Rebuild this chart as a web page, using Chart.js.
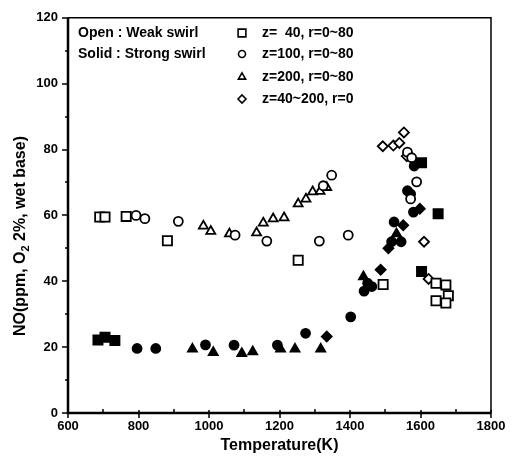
<!DOCTYPE html>
<html>
<head>
<meta charset="utf-8">
<script src="https://cdn.jsdelivr.net/npm/chart.js@4.4.1/dist/chart.umd.min.js"></script>
<style>
  html, body { margin: 0; padding: 0; background: #fff; }
  #wrap { width: 517px; height: 469px; }
</style>
</head>
<body>
<div id="wrap"><canvas id="noChart" width="517" height="469"></canvas></div>
<script>
// Weak swirl (open markers) - [temperature K, NO ppm]
var weakZ40 = [[690, 59.5], [705, 59.5], [765, 59.7], [882, 52.3], [1253, 46.4], [1494, 39], [1644, 39.4], [1672, 38.9], [1679, 35.6], [1644, 34.1], [1672, 33.4]];
var weakZ100 = [[793, 60], [818, 59], [913, 58.2], [1074, 54], [1164, 52.2], [1313, 52.2], [1395, 54], [1324, 69], [1348, 72.2], [1563, 79.2], [1575, 77.5], [1589, 70.2], [1572, 65]];
var weakZ200 = [[984, 56.8], [1005, 55.2], [1058, 54.4], [1135, 54.7], [1154, 57.7], [1182, 59], [1213, 59.3], [1253, 63.5], [1275, 65], [1294, 67.2], [1315, 67.3], [1334, 68.5]];
var weakAxis = [[1493, 81], [1523, 81.2], [1540, 82], [1553, 85.2], [1561, 78], [1610, 52], [1623, 40.7]];

// Strong swirl (solid markers)
var strongZ40 = [[685, 22.2], [705, 23], [733, 22], [1603, 76], [1650, 60.5], [1603, 43]];
var strongZ100 = [[796, 19.6], [849, 19.6], [990, 20.7], [1071, 20.6], [1194, 20.6], [1274, 24.2], [1402, 29.2], [1440, 37], [1450, 39.4], [1462, 38.4], [1518, 52], [1525, 58], [1545, 52], [1563, 67.5], [1572, 66.5], [1580, 61], [1582, 75]];
var strongZ200 = [[953, 19.4], [1012, 18.4], [1093, 18.1], [1124, 18.6], [1203, 19.4], [1244, 19.4], [1317, 19.4], [1438, 41.4], [1532, 54.4]];
var strongAxis = [[1334, 23.2], [1487, 43.5], [1509, 50], [1551, 57], [1598, 62]];

var legendLabels = ['z=  40, r=0~80', 'z=100, r=0~80', 'z=200, r=0~80', 'z=40~200, r=0'];
var legendStyles = ['rect', 'circle', 'triangle', 'rectRot'];

var FONT = '"Liberation Sans", Arial, sans-serif';

function toPoints(arr) {
    return arr.map(function (p) { return { x: p[0], y: p[1] }; });
}

// rect in Chart.js is drawn smaller than the circle for the same radius
var markerRadius = { rect: 6.5, circle: 4.5, triangle: 5.2, rectRot: 5 };

function makeSet(label, arr, style, solid) {
    return {
        label: label,
        data: toPoints(arr),
        pointStyle: style,
        pointRadius: markerRadius[style],
        pointBorderWidth: 1.8,
        borderColor: '#000',
        pointBackgroundColor: solid ? '#000' : '#fff',
        pointBorderColor: '#000',
        showLine: false
    };
}

// frame, tick marks, axis titles and the in-plot legend
var decorations = {
    id: 'decorations',
    afterDraw: function (chart) {
        var ctx = chart.ctx;
        var a = chart.chartArea;
        var x = chart.scales.x, y = chart.scales.y;
        ctx.save();
        ctx.strokeStyle = '#000';

        ctx.lineWidth = 1.5;
        ctx.beginPath();
        ctx.moveTo(a.left, a.top); ctx.lineTo(a.right, a.top); ctx.lineTo(a.right, a.bottom);
        ctx.stroke();
        ctx.lineWidth = 2.5;
        ctx.beginPath();
        ctx.moveTo(a.left, a.top); ctx.lineTo(a.left, a.bottom); ctx.lineTo(a.right, a.bottom);
        ctx.stroke();

        ctx.lineWidth = 1.5;
        ctx.beginPath();
        for (var t = 600; t <= 1800; t += 100) {
            var px = Math.round(x.getPixelForValue(t));
            if (t % 200 === 0) { ctx.moveTo(px, a.bottom - 3); ctx.lineTo(px, a.bottom + 5); }
            else { ctx.moveTo(px, a.bottom - 4); ctx.lineTo(px, a.bottom); }
        }
        for (var v = 0; v <= 120; v += 10) {
            var py = Math.round(y.getPixelForValue(v));
            if (v % 20 === 0) { ctx.moveTo(a.left - 6, py); ctx.lineTo(a.left, py); }
            else { ctx.moveTo(a.left - 3, py); ctx.lineTo(a.left, py); }
        }
        ctx.stroke();

        ctx.fillStyle = '#000';
        // x title
        ctx.font = 'bold 16px ' + FONT;
        ctx.textAlign = 'center';
        ctx.textBaseline = 'middle';
        ctx.fillText('Temperature(K)', (a.left + a.right) / 2, 446);

        // y title with subscript
        ctx.save();
        ctx.translate(21, 236);
        ctx.rotate(-Math.PI / 2);
        var big = 'bold 16px ' + FONT, small = 'bold 11px ' + FONT;
        var p1 = 'NO(ppm, O', p3 = ' 2%, wet base)';
        ctx.font = big;
        var w1 = ctx.measureText(p1).width, w3 = ctx.measureText(p3).width;
        ctx.font = small;
        var w2 = ctx.measureText('2').width;
        var start = -(w1 + w2 + w3) / 2;
        ctx.textAlign = 'left';
        ctx.font = big;
        ctx.fillText(p1, start, 0);
        ctx.font = small;
        ctx.fillText('2', start + w1, 5);
        ctx.font = big;
        ctx.fillText(p3, start + w1 + w2, 0);
        ctx.restore();

        // legend
        ctx.font = 'bold 14px ' + FONT;
        ctx.textAlign = 'left';
        ctx.textBaseline = 'middle';
        ctx.fillText('Open : Weak swirl', 78, 33);
        ctx.fillText('Solid : Strong swirl', 78, 54);
        var rows = [33, 54, 77, 99];
        for (var i = 0; i < legendLabels.length; i++) {
            ctx.fillStyle = '#fff';
            ctx.strokeStyle = '#000';
            ctx.lineWidth = 1.6;
            Chart.helpers.drawPoint(ctx, { pointStyle: legendStyles[i], radius: markerRadius[legendStyles[i]] - 1, borderWidth: 1.6, rotation: 0 }, 242, rows[i]);
            ctx.fillStyle = '#000';
            ctx.fillText(legendLabels[i], 262, rows[i]);
        }
        ctx.restore();
    }
};

var ctxNo = document.getElementById('noChart').getContext('2d');
var noChart = new Chart(ctxNo, {
    type: 'scatter',
    data: {
        datasets: [
            makeSet('Weak z=40', weakZ40, 'rect', false),
            makeSet('Weak z=100', weakZ100, 'circle', false),
            makeSet('Weak z=200', weakZ200, 'triangle', false),
            makeSet('Weak z=40~200', weakAxis, 'rectRot', false),
            makeSet('Strong z=40', strongZ40, 'rect', true),
            makeSet('Strong z=100', strongZ100, 'circle', true),
            makeSet('Strong z=200', strongZ200, 'triangle', true),
            makeSet('Strong z=40~200', strongAxis, 'rectRot', true)
        ]
    },
    options: {
        responsive: false,
        animation: false,
        layout: { padding: { top: 13, right: 26, left: 0, bottom: 0 } },
        plugins: {
            legend: { display: false },
            tooltip: { enabled: false }
        },
        scales: {
            x: {
                type: 'linear',
                min: 600,
                max: 1800,
                grid: { display: false, drawTicks: false },
                border: { display: false },
                ticks: {
                    stepSize: 200,
                    padding: 6,
                    color: '#000',
                    maxRotation: 0,
                    font: { family: FONT, size: 13, weight: 'bold' },
                    callback: function (value) { return String(value); }
                },
                afterFit: function (scale) { scale.height = 56; }
            },
            y: {
                min: 0,
                max: 120,
                grid: { display: false, drawTicks: false },
                border: { display: false },
                ticks: {
                    stepSize: 20,
                    padding: 10,
                    color: '#000',
                    font: { family: FONT, size: 13, weight: 'bold' },
                    callback: function (value) { return String(value); }
                },
                afterFit: function (scale) { scale.width = 68; }
            }
        }
    },
    plugins: [decorations]
});
</script>
</body>
</html>
